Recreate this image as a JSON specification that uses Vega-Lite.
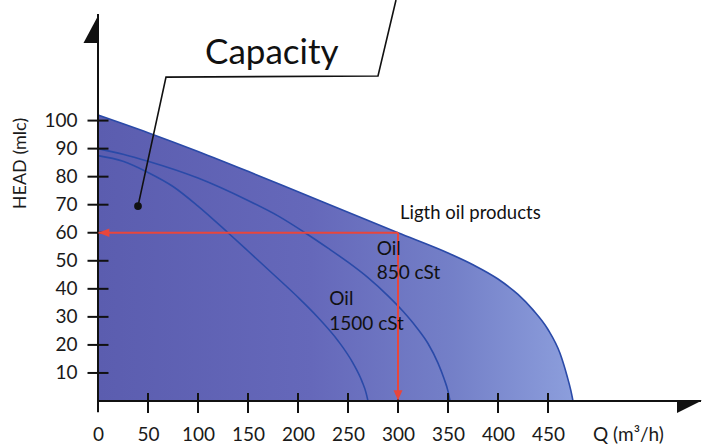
{
  "$schema": "https://vega.github.io/schema/vega-lite/v6.json",
  "width": 600,
  "height": 401,
  "autosize": {"type": "none"},
  "padding": {"left": 98, "top": 0, "right": 4, "bottom": 43},
  "background": "white",
  "config": {"view": {"stroke": null}, "font": "Lato"},
  "datasets": {
    "light": [
      {"q": 0, "h": 102}, {"q": 50, "h": 95.7}, {"q": 100, "h": 89},
      {"q": 150, "h": 81.9}, {"q": 200, "h": 74.6}, {"q": 250, "h": 67.3}, {"q": 300, "h": 60},
      {"q": 350, "h": 52.8}, {"q": 375, "h": 48.6}, {"q": 400, "h": 43.5}, {"q": 420, "h": 38},
      {"q": 435, "h": 32.5}, {"q": 450, "h": 25.5}, {"q": 462, "h": 17}, {"q": 469, "h": 9},
      {"q": 473, "h": 3.5}, {"q": 475, "h": 0}
    ],
    "oils": [
      {"series": "850", "q": 0, "h": 90}, {"series": "850", "q": 25, "h": 88}, {"series": "850", "q": 50, "h": 85.5},
      {"series": "850", "q": 100, "h": 79.5}, {"series": "850", "q": 150, "h": 71.5}, {"series": "850", "q": 180, "h": 66},
      {"series": "850", "q": 207, "h": 60}, {"series": "850", "q": 230, "h": 54.5}, {"series": "850", "q": 250, "h": 49.5},
      {"series": "850", "q": 270, "h": 44}, {"series": "850", "q": 290, "h": 37.5}, {"series": "850", "q": 305, "h": 32},
      {"series": "850", "q": 318, "h": 26.5}, {"series": "850", "q": 330, "h": 20.5}, {"series": "850", "q": 340, "h": 13.5},
      {"series": "850", "q": 346, "h": 8}, {"series": "850", "q": 350, "h": 3.5}, {"series": "850", "q": 352, "h": 0},
      {"series": "1500", "q": 0, "h": 87.5}, {"series": "1500", "q": 25, "h": 85.5}, {"series": "1500", "q": 50, "h": 81.5},
      {"series": "1500", "q": 75, "h": 76.5}, {"series": "1500", "q": 100, "h": 69.5}, {"series": "1500", "q": 130, "h": 60},
      {"series": "1500", "q": 150, "h": 53.5}, {"series": "1500", "q": 175, "h": 45.3}, {"series": "1500", "q": 200, "h": 37},
      {"series": "1500", "q": 220, "h": 29.8}, {"series": "1500", "q": 240, "h": 21.5}, {"series": "1500", "q": 255, "h": 13.5},
      {"series": "1500", "q": 264, "h": 7}, {"series": "1500", "q": 268, "h": 3}, {"series": "1500", "q": 270, "h": 0}
    ],
    "redlines": [
      {"q": 300, "h": 0.5, "q2": 300, "h2": 60},
      {"q": 0.5, "h": 60, "q2": 300, "h2": 60}
    ],
    "axislines": [
      {"q": 0, "h": -4, "q2": 0, "h2": 138},
      {"q": 0, "h": 0, "q2": 603, "h2": 0}
    ],
    "xticks": [
      {"q": 50, "h": 0}, {"q": 100, "h": 0}, {"q": 150, "h": 0}, {"q": 200, "h": 0}, {"q": 250, "h": 0},
      {"q": 300, "h": 0}, {"q": 350, "h": 0}, {"q": 400, "h": 0}, {"q": 450, "h": 0}
    ],
    "yticks": [
      {"q": 0, "h": 10}, {"q": 0, "h": 20}, {"q": 0, "h": 30}, {"q": 0, "h": 40}, {"q": 0, "h": 50},
      {"q": 0, "h": 60}, {"q": 0, "h": 70}, {"q": 0, "h": 80}, {"q": 0, "h": 90}, {"q": 0, "h": 100}
    ],
    "callout": [
      {"k": 1, "q": 40, "h": 69.5}, {"k": 2, "q": 68, "h": 115.5}, {"k": 3, "q": 280, "h": 115.9}, {"k": 4, "q": 298, "h": 143}
    ]
  },
  "encoding": {
    "x": {
      "field": "q", "type": "quantitative",
      "scale": {"domain": [0, 600], "nice": false, "zero": false},
      "axis": {
        "values": [0, 50, 100, 150, 200, 250, 300, 350, 400, 450],
        "ticks": false, "domain": false, "grid": false, "labelFlush": false, "labelOverlap": false,
        "labelFontSize": 19, "labelPadding": 24, "labelColor": "#1a1a1a", "labelFont": "Lato",
        "title": "Q (m³/h)", "titleFont": "Lato", "titleFontSize": 19, "titleFontWeight": "normal", "titleColor": "#1a1a1a",
        "titleX": 530, "titleY": 33, "titleBaseline": "middle", "titleAlign": "center"
      }
    },
    "y": {
      "field": "h", "type": "quantitative",
      "scale": {"domain": [0, 143], "nice": false, "zero": false},
      "axis": {
        "values": [10, 20, 30, 40, 50, 60, 70, 80, 90, 100],
        "ticks": false, "domain": false, "grid": false, "labelFlush": false, "labelOverlap": false,
        "labelFontSize": 19, "labelPadding": 21, "labelColor": "#1a1a1a", "labelFont": "Lato",
        "title": "HEAD (mlc)", "titleFont": "Lato", "titleFontSize": 18, "titleFontWeight": "normal", "titleColor": "#1a1a1a",
        "titleX": -78, "titleY": 163, "titleAngle": 270, "titleBaseline": "middle", "titleAlign": "center"
      }
    }
  },
  "layer": [
    {
      "data": {"name": "light"},
      "mark": {
        "type": "area", "interpolate": "monotone",
        "color": {
          "gradient": "linear", "x1": 0, "y1": 0, "x2": 1, "y2": 0,
          "stops": [
            {"offset": 0, "color": "#5b5daf"},
            {"offset": 0.45, "color": "#6568ba"},
            {"offset": 0.75, "color": "#7480c8"},
            {"offset": 1, "color": "#8c9edc"}
          ]
        }
      }
    },
    {
      "data": {"name": "oils"},
      "mark": {"type": "line", "interpolate": "monotone", "color": "#2a4aa8", "strokeWidth": 1.6},
      "encoding": {"detail": {"field": "series"}}
    },
    {
      "data": {"name": "light"},
      "mark": {"type": "line", "interpolate": "monotone", "color": "#2a4aa8", "strokeWidth": 1.6}
    },
    {
      "data": {"name": "axislines"},
      "mark": {"type": "rule", "color": "#111111", "strokeWidth": 2},
      "encoding": {"x2": {"field": "q2"}, "y2": {"field": "h2"}}
    },
    {
      "data": {"name": "xticks"},
      "mark": {"type": "tick", "orient": "vertical", "color": "#111111", "size": 20, "thickness": 2, "yOffset": 2, "opacity": 1}
    },
    {
      "data": {"name": "yticks"},
      "mark": {"type": "tick", "orient": "horizontal", "color": "#111111", "size": 21, "thickness": 2, "opacity": 1}
    },
    {
      "data": {"name": "redlines"},
      "mark": {"type": "rule", "color": "#e8463c", "strokeWidth": 2},
      "encoding": {"x2": {"field": "q2"}, "y2": {"field": "h2"}}
    },
    {
      "data": {"values": [{"q": 300, "h": 0.3}]},
      "mark": {"type": "point", "filled": true, "opacity": 1, "color": "#e8463c", "size": 400, "strokeWidth": 0,
               "shape": "M0,0 L-0.45,-1 L0.45,-1 Z"}
    },
    {
      "data": {"values": [{"q": 0.4, "h": 60}]},
      "mark": {"type": "point", "filled": true, "opacity": 1, "color": "#e8463c", "size": 484, "strokeWidth": 0,
               "shape": "M0,0 L1,-0.38 L1,0.38 Z"}
    },
    {
      "data": {"values": [{"q": 0, "h": 138}]},
      "mark": {"type": "point", "filled": true, "opacity": 1, "color": "#111111", "size": 841, "strokeWidth": 0,
               "shape": "M0.07,0 L0.07,2 L-1,2 Z"}
    },
    {
      "data": {"values": [{"q": 604, "h": 0}]},
      "mark": {"type": "point", "filled": true, "opacity": 1, "color": "#111111", "size": 625, "strokeWidth": 0,
               "shape": "M0,-0.05 L-2,-0.05 L-2,0.96 Z"}
    },
    {
      "data": {"name": "callout"},
      "mark": {"type": "line", "color": "#111111", "strokeWidth": 1.6},
      "encoding": {"order": {"field": "k"}}
    },
    {
      "data": {"values": [{"q": 40, "h": 69.5}]},
      "mark": {"type": "point", "filled": true, "opacity": 1, "color": "#111111", "size": 60}
    },
    {
      "data": {"values": [{"q": 107, "h": 120.2, "label": "Capacity"}]},
      "mark": {"type": "text", "align": "left", "baseline": "alphabetic", "fontSize": 35, "color": "#111111", "font": "Lato"},
      "encoding": {"text": {"field": "label"}}
    },
    {
      "data": {"values": [{"q": 302, "h": 64.8, "label": "Ligth oil products"}]},
      "mark": {"type": "text", "align": "left", "baseline": "alphabetic", "fontSize": 18.5, "color": "#111111", "font": "Lato"},
      "encoding": {"text": {"field": "label"}}
    },
    {
      "data": {"values": [
        {"q": 278.7, "h": 52.1, "label": "Oil"},
        {"q": 278.7, "h": 43.4, "label": "850 cSt"},
        {"q": 231.3, "h": 34.2, "label": "Oil"},
        {"q": 231.3, "h": 25.3, "label": "1500 cSt"}
      ]},
      "mark": {"type": "text", "align": "left", "baseline": "alphabetic", "fontSize": 19, "color": "#111111", "font": "Lato"},
      "encoding": {"text": {"field": "label"}}
    }
  ]
}
